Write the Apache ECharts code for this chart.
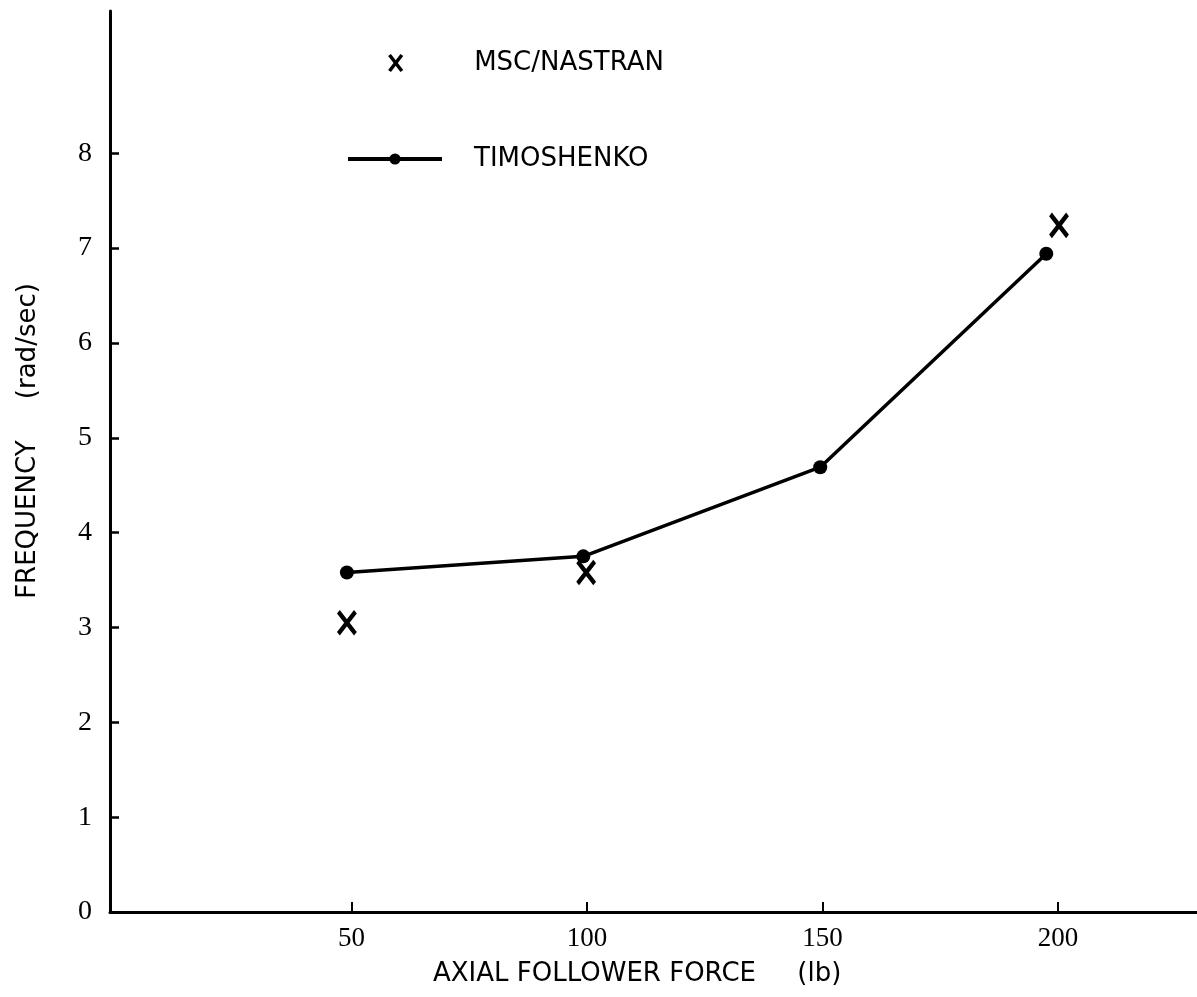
<!DOCTYPE html>
<html><head><meta charset="utf-8">
<script src="https://cdn.jsdelivr.net/npm/echarts@6/dist/echarts.min.js"></script>
<style>html,body{margin:0;padding:0;background:#fff}#c{width:1197px;height:997px}</style>
</head><body><div id="c"></div>
<script>
const timoX = [49.0, 99.2, 149.5, 197.5];
const timoY = [3.58, 3.75, 4.69, 6.94];
const nastranX = [49.0, 99.8, 200.2];
const nastranY = [3.05, 3.58, 7.24];
const xTicks = [50, 100, 150, 200];
const yTicks = [0, 1, 2, 3, 4, 5, 6, 7, 8];
const seriesNames = ['MSC/NASTRAN', 'TIMOSHENKO'];
const xTitle = 'AXIAL FOLLOWER FORCE     (lb)';
const yTitle = 'FREQUENCY     (rad/sec)';

const sans = 'DejaVu Sans';
const serif = 'Liberation Serif';
const xPath = 'path://M0,0 L17,22 M17,0 L0,22';

const chart = echarts.init(document.getElementById('c'), null, {renderer: 'canvas'});
chart.setOption({
  backgroundColor: '#fff',
  animation: false,
  grid: {left: 110, right: 0, top: 11, bottom: 85},
  xAxis: {
    type: 'value', min: -1.3, max: 229.5,
    axisLine: {show: true, onZero: false, lineStyle: {color: '#000', width: 3}},
    axisTick: {show: true, inside: true, length: 10, customValues: xTicks, lineStyle: {color: '#000', width: 2}},
    axisLabel: {customValues: xTicks, color: '#000', fontFamily: serif, fontSize: 27, margin: 13},
    splitLine: {show: false}
  },
  yAxis: {
    type: 'value', min: 0, max: 9.5,
    axisLine: {show: true, onZero: false, lineStyle: {color: '#000', width: 3}},
    axisTick: {show: true, inside: true, length: 9, customValues: yTicks, lineStyle: {color: '#000', width: 2.5}},
    axisLabel: {customValues: yTicks, color: '#000', fontFamily: serif, fontSize: 28, margin: 18},
    splitLine: {show: false}
  },
  legend: [
    {
      data: [seriesNames[0]], left: 387, top: 50, padding: 0,
      itemWidth: 13, itemHeight: 16,
      itemStyle: {color: 'none', borderColor: '#000', borderWidth: 3.5, opacity: 1},
      textStyle: {color: '#000', fontFamily: sans, fontSize: 26, padding: [0, 0, 0, 67]}
    },
    {
      data: [seriesNames[1]], left: 346, top: 146, padding: 0,
      itemWidth: 94, itemHeight: 14,
      lineStyle: {color: '#000', width: 4},
      itemStyle: {color: '#000'},
      textStyle: {color: '#000', fontFamily: sans, fontSize: 26, padding: [0, 0, 0, 27]}
    }
  ],
  graphic: [
    {type: 'text', x: 433, y: 974, style: {text: xTitle, fontFamily: sans, fontSize: 26, fill: '#000', textAlign: 'left', textVerticalAlign: 'middle'}},
    {type: 'text', x: 28, y: 441, rotation: Math.PI / 2, style: {text: yTitle, fontFamily: sans, fontSize: 26, fill: '#000', textAlign: 'center', textVerticalAlign: 'middle'}}
  ],
  series: [
    {
      name: seriesNames[0], type: 'scatter',
      data: nastranX.map((x, i) => [x, nastranY[i]]),
      symbol: xPath, symbolSize: [17, 22],
      itemStyle: {color: 'none', borderColor: '#000', borderWidth: 4.5, opacity: 1},
      z: 3
    },
    {
      name: seriesNames[1], type: 'line',
      data: timoX.map((x, i) => [x, timoY[i]]),
      symbol: 'circle', symbolSize: 14, showSymbol: true,
      lineStyle: {color: '#000', width: 3.5},
      itemStyle: {color: '#000'},
      z: 2
    }
  ]
});
</script></body></html>
